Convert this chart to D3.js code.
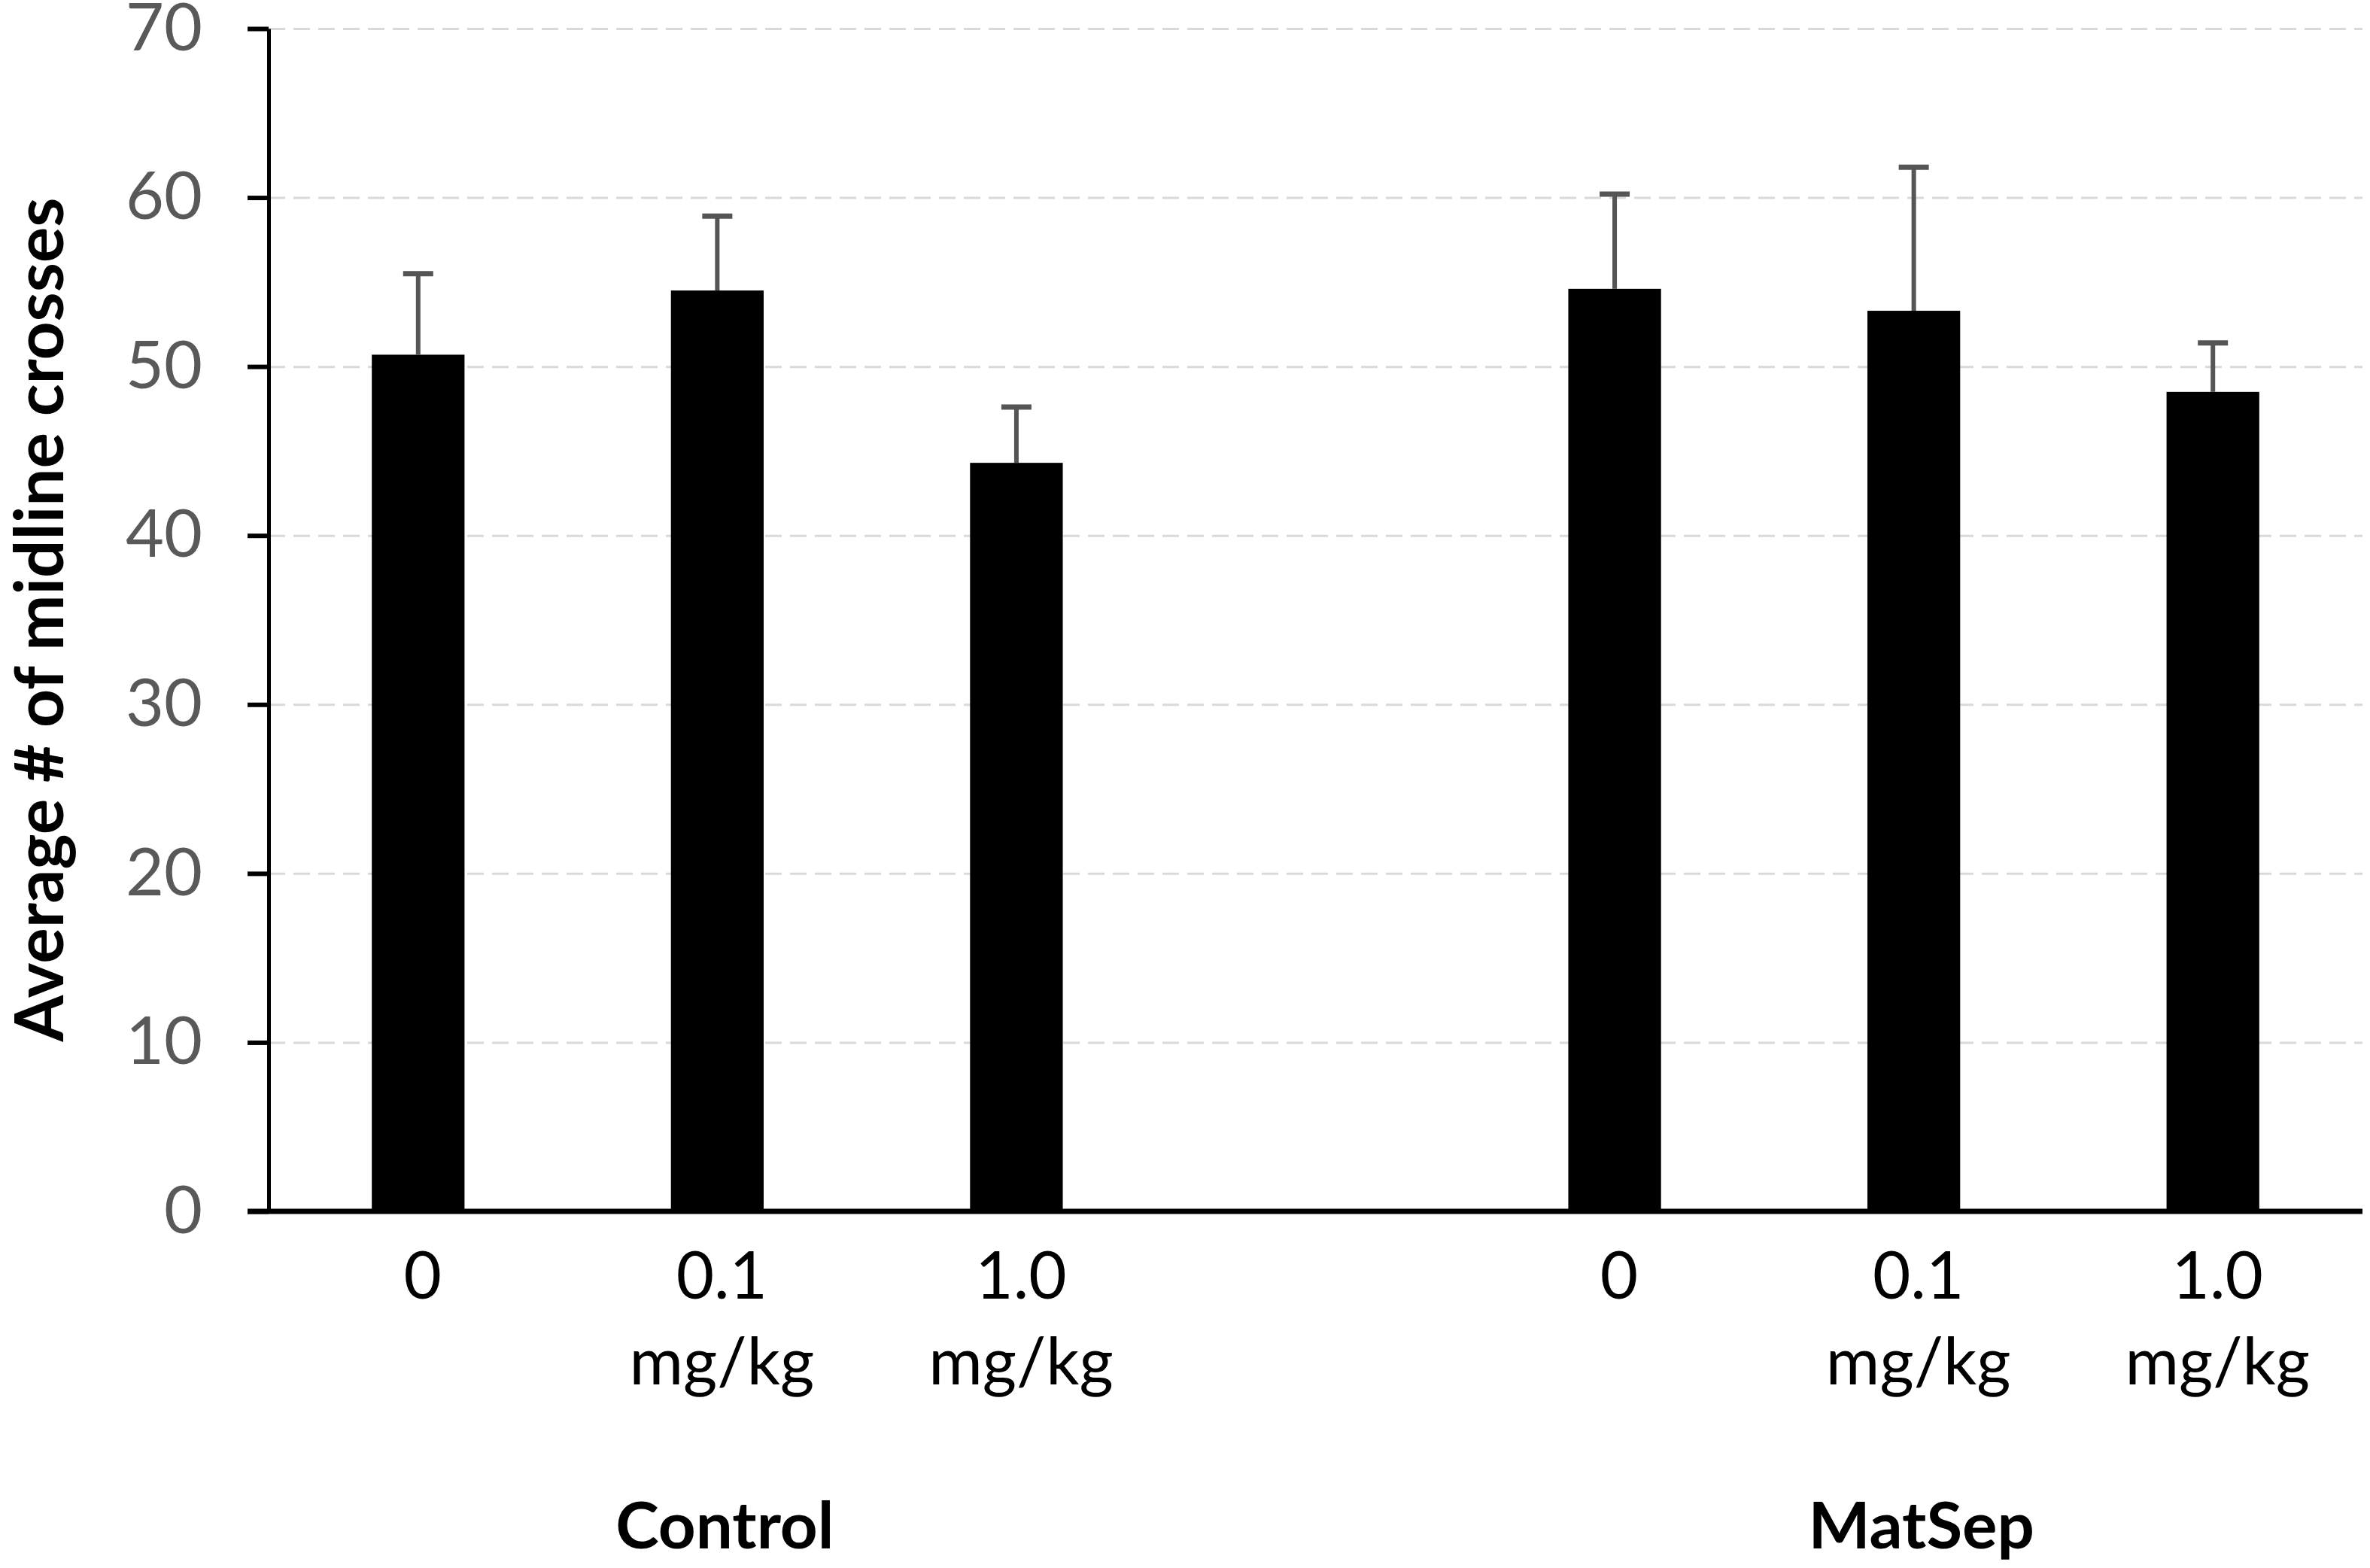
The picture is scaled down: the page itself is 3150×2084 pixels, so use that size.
<!DOCTYPE html>
<html>
<head>
<meta charset="utf-8">
<script src="https://cdn.jsdelivr.net/npm/d3@7"></script>
<style>
  html, body { margin: 0; padding: 0; background: #fff; }
  svg { display: block; }
</style>
</head>
<body>
<div id="chart"></div>
<script>
// Groups and doses along the x axis
const groups = ["Control", "MatSep"];
const doses = ["0", "0.1", "1.0"];
const doseUnits = ["", "mg/kg", "mg/kg"];

// Mean number of midline crosses and error (upper bar) per dose
const controlMeans = [50.7, 54.5, 44.3];
const controlErr = [4.8, 4.4, 3.3];
const matsepMeans = [54.6, 53.3, 48.5];
const matsepErr = [5.6, 8.5, 2.9];

const yTicks = [0, 10, 20, 30, 40, 50, 60, 70];

const width = 3150;
const height = 2084;
const margin = { top: 38, right: 10, bottom: 474, left: 357 };
const plotRight = 3140;

// Build rows: one slot per bar, plus an empty slot between groups
const rows = [];
groups.forEach((g, gi) => {
  const means = gi === 0 ? controlMeans : matsepMeans;
  const errs = gi === 0 ? controlErr : matsepErr;
  doses.forEach((d, di) => {
    rows.push({ key: g + "|" + d, group: g, dose: d, unit: doseUnits[di], mean: means[di], err: errs[di] });
  });
  if (gi === 0) rows.push({ key: "gap", empty: true });
});

const svg = d3.select("#chart")
  .append("svg")
  .attr("width", width)
  .attr("height", height)
  .attr("viewBox", [0, 0, width, height]);

const x = d3.scaleBand()
  .domain(rows.map(d => d.key))
  .range([margin.left, plotRight])
  .paddingInner(0.69)
  .paddingOuter(0.345);

const y = d3.scaleLinear()
  .domain([0, 70])
  .range([1610, margin.top]);

// Dashed gridlines
svg.append("g")
  .attr("transform", `translate(${margin.left},0)`)
  .call(d3.axisLeft(y).tickValues(yTicks.filter(t => t > 0)).tickSize(-(plotRight - margin.left)).tickFormat(""))
  .call(g => g.select(".domain").remove())
  .call(g => g.selectAll(".tick line")
    .attr("stroke", "#d9d9d9")
    .attr("stroke-width", 3)
    .attr("stroke-dasharray", "22,11"));

// Bars
const bars = rows.filter(d => !d.empty);
svg.append("g")
  .selectAll("rect")
  .data(bars)
  .join("rect")
  .attr("x", d => x(d.key))
  .attr("y", d => y(d.mean))
  .attr("width", x.bandwidth())
  .attr("height", d => y(0) - y(d.mean))
  .attr("fill", "#000");

// Error bars (upper only)
const errG = svg.append("g")
  .attr("stroke", "#555")
  .attr("stroke-width", 6);

errG.selectAll("line.stem")
  .data(bars)
  .join("line")
  .attr("class", "stem")
  .attr("x1", d => x(d.key) + x.bandwidth() / 2)
  .attr("x2", d => x(d.key) + x.bandwidth() / 2)
  .attr("y1", d => y(d.mean))
  .attr("y2", d => y(d.mean + d.err));

errG.selectAll("line.cap")
  .data(bars)
  .join("line")
  .attr("class", "cap")
  .attr("x1", d => x(d.key) + x.bandwidth() / 2 - 20)
  .attr("x2", d => x(d.key) + x.bandwidth() / 2 + 20)
  .attr("y1", d => y(d.mean + d.err))
  .attr("y2", d => y(d.mean + d.err))
  .attr("stroke-width", 7);

// Y axis
svg.append("g")
  .attr("transform", `translate(${margin.left},0)`)
  .call(d3.axisLeft(y).tickValues(yTicks).tickSize(28).tickSizeOuter(0).tickPadding(60))
  .call(g => g.select(".domain").attr("stroke", "#000").attr("stroke-width", 5))
  .call(g => g.selectAll(".tick line").attr("stroke", "#000").attr("stroke-width", 6))
  .call(g => g.selectAll(".tick text")
    .attr("fill", "#595959")
    .attr("font-family", "Lato, 'Open Sans', sans-serif")
    .attr("font-size", 88));

// X axis baseline
svg.append("line")
  .attr("x1", margin.left - 28)
  .attr("x2", plotRight)
  .attr("y1", y(0))
  .attr("y2", y(0))
  .attr("stroke", "#000")
  .attr("stroke-width", 7);

// Dose labels
const labels = svg.append("g")
  .attr("font-family", "Lato, 'Open Sans', sans-serif")
  .attr("font-size", 87)
  .attr("fill", "#000")
  .attr("text-anchor", "middle");

labels.selectAll("text.dose")
  .data(bars)
  .join("text")
  .attr("class", "dose")
  .attr("x", d => x(d.key) + x.bandwidth() / 2 + 6)
  .attr("y", 1726)
  .text(d => d.dose);

labels.selectAll("text.unit")
  .data(bars.filter(d => d.unit))
  .join("text")
  .attr("class", "unit")
  .attr("x", d => x(d.key) + x.bandwidth() / 2 + 6)
  .attr("y", 1840)
  .text(d => d.unit);

// Group labels, centred under the middle dose
svg.append("g")
  .selectAll("text")
  .data(groups)
  .join("text")
  .attr("x", g => x(g + "|" + doses[1]) + x.bandwidth() / 2 + 10)
  .attr("y", 2058)
  .attr("text-anchor", "middle")
  .attr("font-family", "Lato, 'Open Sans', sans-serif")
  .attr("font-weight", "bold")
  .attr("font-size", 87)
  .attr("fill", "#000")
  .text(g => g);

// Y axis title
svg.append("text")
  .attr("transform", `translate(84,${(261 + 1386) / 2}) rotate(-90)`)
  .attr("text-anchor", "middle")
  .attr("font-family", "Lato, 'Open Sans', sans-serif")
  .attr("font-weight", "bold")
  .attr("font-size", 89)
  .attr("fill", "#000")
  .text("Average # of midline crosses");
</script>
</body>
</html>
